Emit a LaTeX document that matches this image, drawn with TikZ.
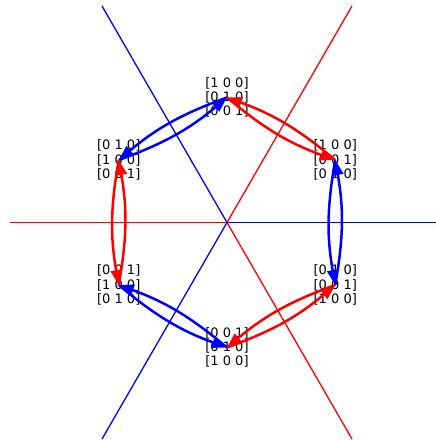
\documentclass[tikz,border=0pt]{standalone}
\usepackage{fontspec}
\setmainfont{DejaVu Sans}
\usetikzlibrary{arrows.meta, calc}
\newcommand{\hexrad}{125}
\newcommand{\raylen}{250}
\newcommand{\pmat}[3]{{[#1]}\\{[#2]}\\{[#3]}}
\definecolor{mirblue}{RGB}{0,0,255}
\definecolor{mirred}{RGB}{255,0,0}
\tikzset{
  perm/.style    = {align=center, inner sep=0pt, font=\fontsize{13}{14.3}\selectfont}, % a permutation matrix
  mirror/.style  = {line width=1.3pt},                                                 % a reflection axis
  swapedge/.style= {line width=2.5pt, -{Triangle[length=15pt, width=11pt]}},          % one generator step
}

\begin{document}
\begin{tikzpicture}[x=1pt, y=1pt]
      \useasboundingbox (-227,-217.5) rectangle (209,222.5);
      \clip (-227,-217.5) rectangle (209,222.5);
      % the mirrors
      \coordinate (o) at (0,0);
      \coordinate (rl) at (-217,0);
      \coordinate (rr) at (\raylen,0);
      \coordinate (rul) at (120:\raylen);
      \coordinate (rur) at (60:\raylen);
      \coordinate (rdl) at (-120:\raylen);
      \coordinate (rdr) at (-60:\raylen);
      \draw[mirror, mirred]  (o) -- (rl);
      \draw[mirror, mirred]  (o) -- (rur);
      \draw[mirror, mirred]  (o) -- (rdr);
      \draw[mirror, mirblue] (o) -- (rr);
      \draw[mirror, mirblue] (o) -- (rul);
      \draw[mirror, mirblue] (o) -- (rdl);
      % the six elements
      \foreach \ang/\nm/\ra/\rb/\rc in {
          90/pid/1 0 0/0 1 0/0 0 1,
          30/pa/1 0 0/0 0 1/0 1 0,
          -30/pb/0 1 0/0 0 1/1 0 0,
          -90/pc/0 0 1/0 1 0/1 0 0,
          -150/pd/0 0 1/1 0 0/0 1 0,
          150/pe/0 1 0/1 0 0/0 0 1} {
        \node[perm] (\nm) at (\ang:\hexrad) {\pmat{\ra}{\rb}{\rc}};
      }
      % steps both ways
      \foreach \a/\b/\c in {pid/pe/mirblue, pid/pa/mirred, pa/pb/mirblue,
                            pb/pc/mirred, pc/pd/mirblue, pd/pe/mirred} {
        \draw[swapedge, \c] (\a.center) to[bend right=10] (\b.center);
        \draw[swapedge, \c] (\b.center) to[bend right=10] (\a.center);
      }
    \end{tikzpicture}
\end{document}
